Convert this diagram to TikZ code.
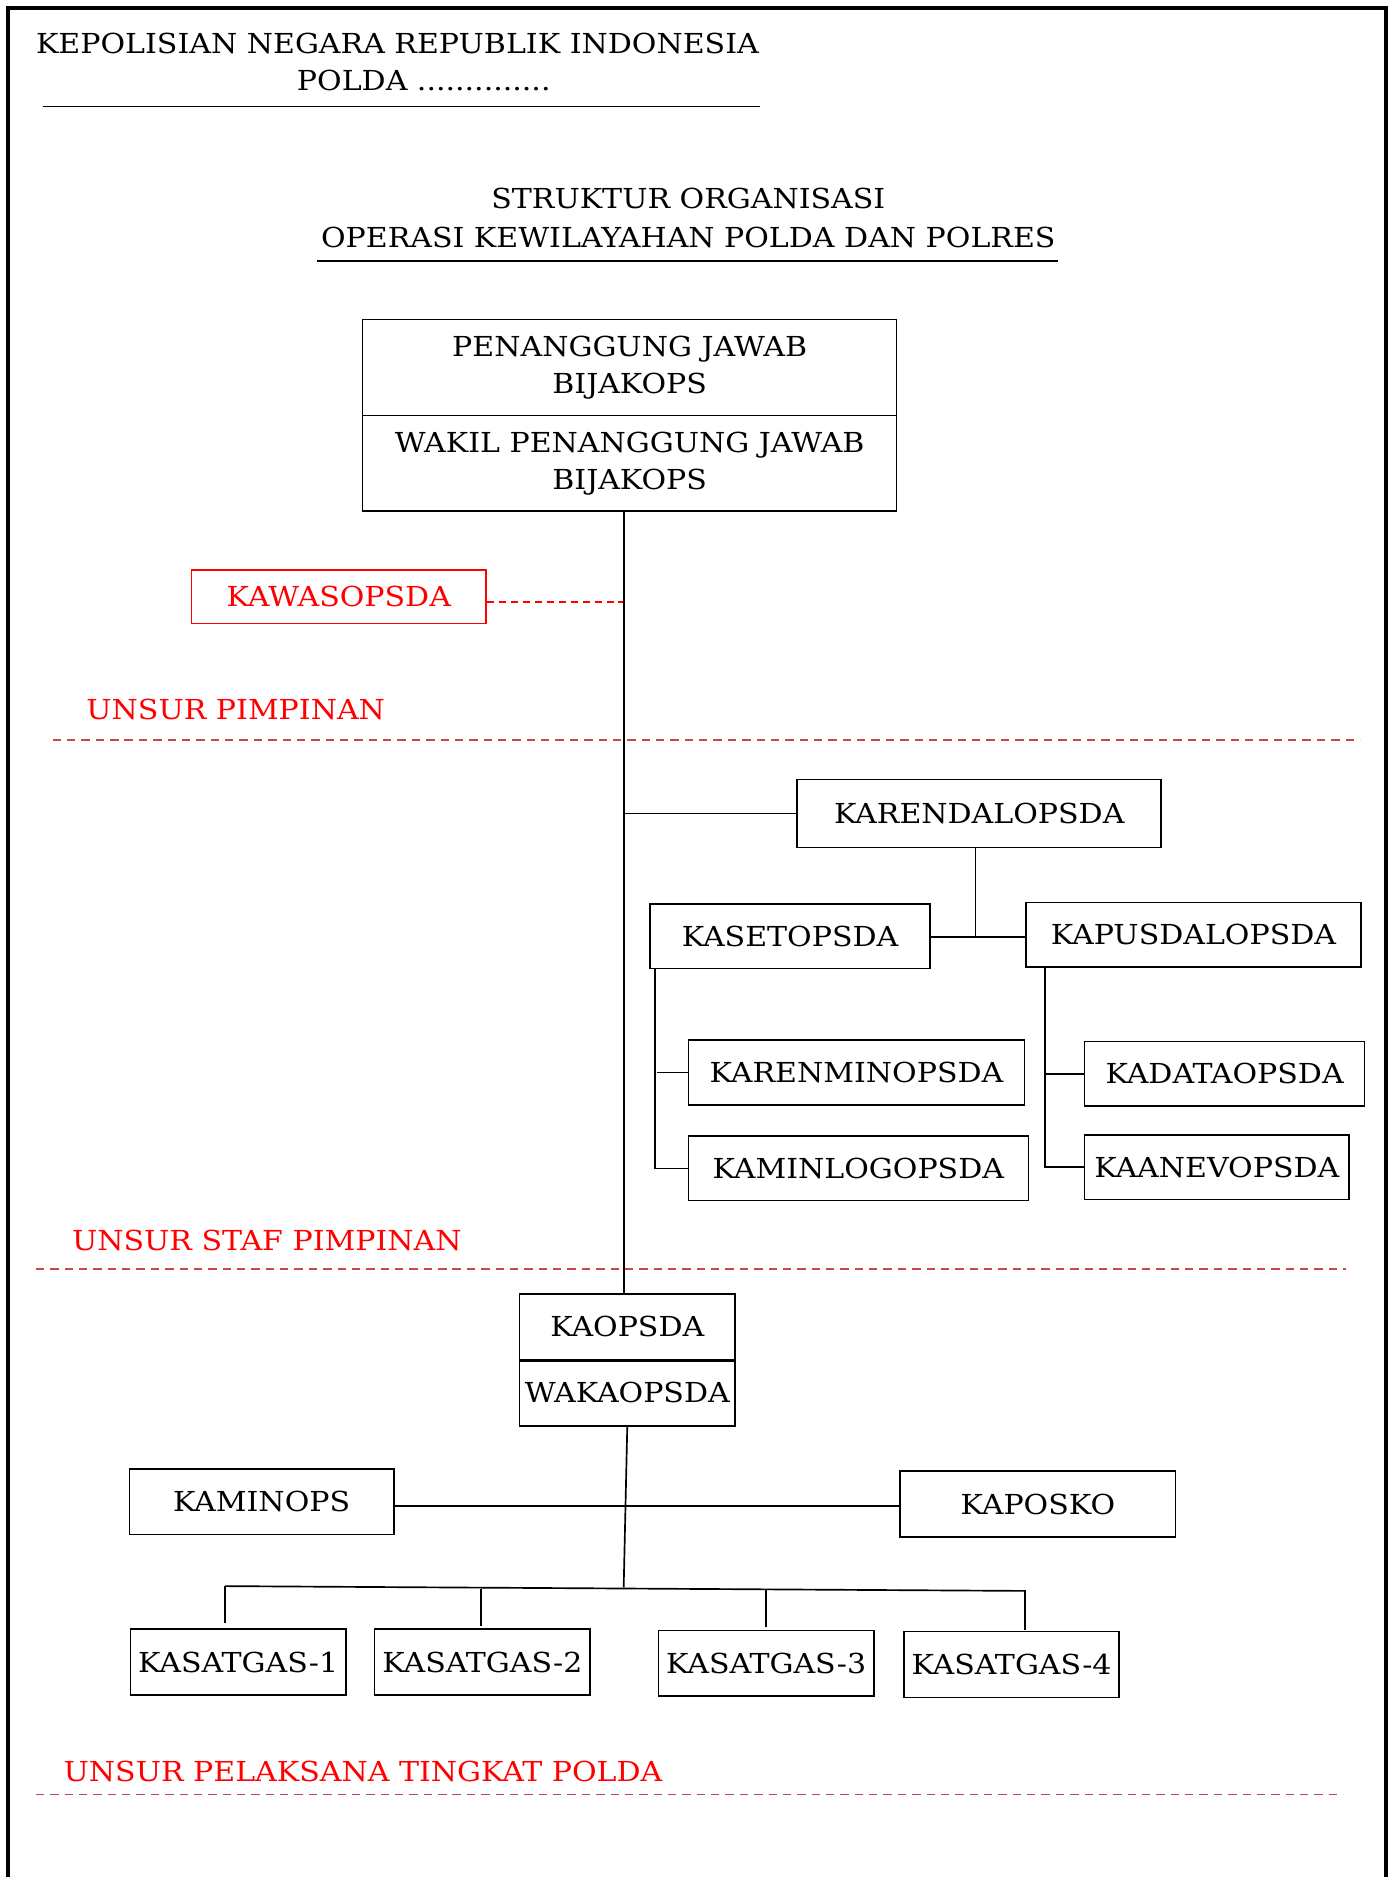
\documentclass[tikz,border=0pt]{standalone}
\usepackage{fontspec}
\setmainfont[FakeStretch=1.09]{DejaVu Serif}
\definecolor{dashred}{RGB}{200,70,70}
\begin{document}
\begin{tikzpicture}[x=1pt,y=-1pt,
  every node/.style={font=\fontsize{23}{31}\selectfont},
  orgbox/.style={draw, line width=1.3pt, inner sep=0pt, align=center},
  redbox/.style={orgbox, draw=red, text=red},
  redlabel/.style={text=red, anchor=west, inner sep=0pt},
  sepline/.style={draw=dashred, line width=1.4pt, dash pattern=on 7pt off 5pt},
  conn/.style={line width=1.4pt}]
\useasboundingbox (0,0) rectangle (1166,1568);
% frame
\draw[line width=3.5pt] (7,1570) -- (7,7) -- (1158,7) -- (1158,1570);
% header
\node (h1) at (332,36) {KEPOLISIAN NEGARA REPUBLIK INDONESIA};
\node (h2) at (354,67) {POLDA ..............};
\draw[line width=1.6pt] (36,89) -- (635,89);
\node (t1) at (575,166) {STRUKTUR ORGANISASI};
\node (t2) at (575,198) {OPERASI KEWILAYAHAN POLDA DAN POLRES};
\draw[line width=1.4pt] (265,218) -- (884,218);
% top boxes
\node[orgbox, minimum width=446pt, minimum height=80pt] (pj) at (526,307) {PENANGGUNG JAWAB\\BIJAKOPS};
\node[orgbox, minimum width=446pt, minimum height=80pt] (wpj) at (526,387) {WAKIL PENANGGUNG JAWAB\\BIJAKOPS};
\coordinate (spine) at (521,0);
% kawasopsda
\node[redbox, minimum width=246pt, minimum height=45pt] (kawas) at (283,498.5) {KAWASOPSDA};
\coordinate (kawasj) at (521,503);
\draw[red, line width=1.3pt, dash pattern=on 6pt off 4pt] (kawas.east |- kawasj) -- (kawasj);
% unsur pimpinan
\node[redlabel] (up) at (72,593) {UNSUR PIMPINAN};
\coordinate (s1a) at (44,618); \coordinate (s1b) at (1136,618);
\draw[sepline] (s1a) -- (s1b);
% staff
\node[orgbox, minimum width=304pt, minimum height=57pt] (karen) at (818,679.5) {KARENDALOPSDA};
\node[orgbox, minimum width=234pt, minimum height=54pt] (kaset) at (660,782) {KASETOPSDA};
\node[orgbox, minimum width=280pt, minimum height=54pt] (kapus) at (997,781) {KAPUSDALOPSDA};
\node[orgbox, minimum width=281pt, minimum height=54pt] (karenmin) at (715.5,896) {KARENMINOPSDA};
\node[orgbox, minimum width=284pt, minimum height=54pt] (kaminlog) at (717,976) {KAMINLOGOPSDA};
\node[orgbox, minimum width=234pt, minimum height=54pt] (kadata) at (1023,897) {KADATAOPSDA};
\node[orgbox, minimum width=221pt, minimum height=54pt] (kaanev) at (1016.5,975) {KAANEVOPSDA};
\coordinate (kj) at (815,783);
\draw[conn] (karen.west -| spine) -- (karen.west);
\draw[conn] (karen.south -| kj) -- (kj);
\draw[conn] (kaset.east |- kj) -- (kapus.west |- kj);
\coordinate (ksx) at (547,0);
\draw[conn] (kaset.south -| ksx) -- (ksx |- kaminlog.west) -- (kaminlog.west);
\draw[conn] ([xshift=2pt]ksx |- karenmin.west) -- (karenmin.west);
\coordinate (kpx) at (873,0);
\draw[conn] (kapus.south -| kpx) -- (kpx |- kaanev.west) -- (kaanev.west);
\draw[conn] (kpx |- kadata.west) -- (kadata.west);
% unsur staf
\node[redlabel] (us) at (60,1036) {UNSUR STAF PIMPINAN};
\coordinate (s2a) at (30,1060); \coordinate (s2b) at (1124,1060);
\draw[sepline] (s2a) -- (s2b);
% kaopsda
\node[orgbox, minimum width=180pt, minimum height=55pt] (kaops) at (524,1108.5) {KAOPSDA};
\node[orgbox, minimum width=180pt, minimum height=55pt] (wakaops) at (524,1163.5) {WAKAOPSDA};
\draw[line width=2pt] (kaops.south west) -- (kaops.south east);
\draw[conn] (wpj.south -| spine) -- (kaops.north -| spine);
\coordinate (bus) at (521,1326);
\draw[conn] (wakaops.south) -- (bus);
\node[orgbox, minimum width=221pt, minimum height=55pt] (kamin) at (218.5,1254.5) {KAMINOPS};
\node[orgbox, minimum width=230pt, minimum height=55pt] (kapos) at (867,1256.5) {KAPOSKO};
\draw[conn] (kamin.east |- 0,1258) -- (kapos.west |- 0,1258);
% satgas
\node[orgbox, minimum width=180pt, minimum height=55pt] (sg1) at (199,1388.5) {KASATGAS-1};
\node[orgbox, minimum width=180pt, minimum height=55pt] (sg2) at (403,1388.5) {KASATGAS-2};
\node[orgbox, minimum width=180pt, minimum height=55pt] (sg3) at (640,1389.5) {KASATGAS-3};
\node[orgbox, minimum width=180pt, minimum height=55pt] (sg4) at (845,1390.5) {KASATGAS-4};
\coordinate (b1) at (188,1325); \coordinate (b4) at (857,1329);
\draw[conn] (b1) -- (b4);
\draw[conn] (b1) -- (188,1356);
\draw[conn] (402,1327) -- (402,1358);
\draw[conn] (640,1328) -- (640,1359);
\draw[conn] (856,1329) -- (856,1362);
% unsur pelaksana
\node[redlabel] (upl) at (53,1480) {UNSUR PELAKSANA TINGKAT POLDA};
\coordinate (s3a) at (30,1499); \coordinate (s3b) at (1122,1499);
\draw[sepline] (s3a) -- (s3b);
\end{tikzpicture}
\end{document}
